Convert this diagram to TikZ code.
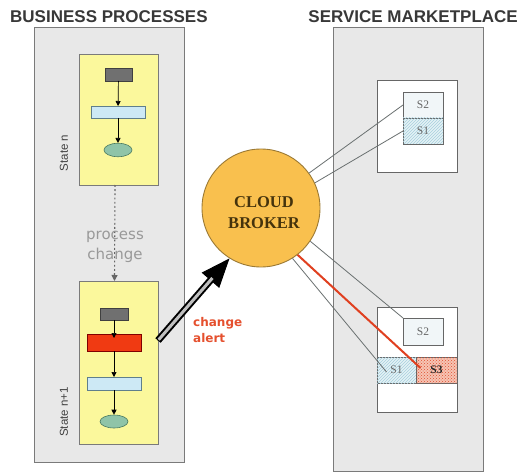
\documentclass[tikz,border=0pt]{standalone}
\usepackage{fontspec}
\setmainfont{Liberation Sans}
\newfontfamily\serf{Liberation Serif}
\newfontfamily\dvs{DejaVu Sans}
\usetikzlibrary{arrows.meta,calc,patterns,shapes.geometric}
\definecolor{panelbg}{HTML}{E8E8E8}
\definecolor{panelln}{HTML}{7A7A7A}
\definecolor{yel}{HTML}{FBF89C}
\definecolor{grayrect}{HTML}{707070}
\definecolor{lblue}{HTML}{CDE9F5}
\definecolor{lbluedk}{HTML}{5F7F8C}
\definecolor{ellg}{HTML}{8FC4A8}
\definecolor{ellgdk}{HTML}{4A7A60}
\definecolor{redrect}{HTML}{F03A12}
\definecolor{cloudfill}{HTML}{F9C04E}
\definecolor{clouddk}{HTML}{9C7A35}
\definecolor{cloudtxt}{HTML}{45330C}
\definecolor{alertred}{HTML}{E5502E}
\definecolor{connln}{HTML}{6A7070}
\definecolor{redln}{HTML}{E04020}
\definecolor{hatchblue}{HTML}{A8CFDD}
\definecolor{s1bg}{HTML}{E4F2F6}
\definecolor{s2bg}{HTML}{F1F6F8}
\definecolor{s3bg}{HTML}{F6C4B4}
\definecolor{s3dot}{HTML}{E05030}
\begin{document}
\begin{tikzpicture}[x=1pt,y=-1pt,
  rbox/.style={rectangle,inner sep=0pt,outer sep=0pt},
  panelbox/.style={rbox,draw=panelln,fill=panelbg,line width=1pt},
  statebox/.style={rbox,draw=panelln,fill=yel,line width=0.8pt},
  grbox/.style={rbox,draw=black!75,fill=grayrect,line width=0.6pt,minimum height=12pt},
  blbox/.style={rbox,draw=lbluedk,fill=lblue,line width=0.6pt,minimum width=54pt},
  rdbox/.style={rbox,draw=red!50!black,fill=redrect,line width=0.6pt,minimum width=54pt,minimum height=17pt},
  ellnode/.style={ellipse,inner sep=0pt,draw=ellgdk,fill=ellg,line width=0.6pt,minimum width=28pt,minimum height=13.5pt},
  flow/.style={draw=black,line width=0.7pt,-{Triangle[length=5pt,width=5pt]}},
  whitebox/.style={rbox,draw=black!60,fill=white,line width=0.9pt,minimum width=80pt},
  sbox/.style={rbox,draw=black!60,line width=0.9pt,font=\serf\fontsize{11.5}{12}\selectfont,text=black!60},
  conn/.style={draw=connln,line width=0.8pt},
  title/.style={font=\bfseries\fontsize{17}{18}\selectfont,text=black!78,inner sep=0pt},
  statelbl/.style={font=\fontsize{11.5}{12}\selectfont,text=black!75,rotate=90,inner sep=0pt}
]
\useasboundingbox (0,0) rectangle (521,473);
\fill[white] (0,0) rectangle (521,473);

% titles
\node[title,anchor=west] (t1) at (10,17) {BUSINESS PROCESSES};
\node[title,anchor=east] (t2) at (518,17) {SERVICE MARKETPLACE};

% panels
\node[panelbox,minimum width=150pt,minimum height=434pt] (lp) at (109,245) {};
\node[panelbox,minimum width=150pt,minimum height=443pt] (rp) at (408,249.5) {};

% state n
\node[statebox,minimum width=79pt,minimum height=131pt] (y1) at (118.5,119.5) {};
\node[grbox,minimum width=27pt,minimum height=13pt] (g1) at (118.5,74.5) {};
\node[blbox,minimum height=12pt] (b1) at (118,112) {};
\node[ellnode] (e1) at (118,150) {};
\draw[flow] (g1) -- (b1);
\draw[flow] (b1) -- (e1);
\node[statelbl] (sl1) at (64,153) {State n};

% state n+1
\node[statebox,minimum width=79pt,minimum height=163pt] (y2) at (118.5,362.5) {};
\node[grbox,minimum width=28pt] (g2) at (114,314) {};
\node[rdbox] (r2) at (114,342.5) {};
\node[blbox,minimum height=13pt] (b2) at (114,383.5) {};
\node[ellnode,minimum height=13pt] (e2) at (114,421.5) {};
\draw[flow] (g2) -- ($(r2.north)+(0,4)$);
\draw[flow] (r2) -- (b2);
\draw[flow] (b2) -- (e2);
\node[statelbl] (sl2) at (64,412) {State n+1};

% process change
\draw[draw=black!60,line width=1.1pt,dash pattern=on 1.8pt off 2.4pt,-{Triangle[length=6pt,width=6pt]}]
  ($(y1.south)+(-3.5,0)$) -- ($(y2.north)+(-4,0)$);
\node[font=\dvs\fontsize{15}{20}\selectfont,text=black!40,align=center,inner sep=0pt] (pc) at (115,247) {process\\change};

% right side boxes
\node[whitebox,minimum height=92pt] (wt) at (417,126) {};
\node[sbox,fill=s2bg,minimum width=40pt,minimum height=26pt] (s2a) at (423,105) {S2};
\node[sbox,fill=s1bg,postaction={pattern=north east lines,pattern color=hatchblue},minimum width=40pt,minimum height=26pt] (s1a) at (423,131) {};
\node[font=\serf\fontsize{11.5}{12}\selectfont,text=black!60] (s1at) at (s1a) {S1};

\node[whitebox,minimum height=105pt] (wb) at (417,359.5) {};
\node[sbox,fill=s2bg,minimum width=40pt,minimum height=27pt] (s2b) at (423,331.5) {S2};
\node[sbox,fill=s1bg,postaction={pattern=north east lines,pattern color=hatchblue},minimum width=39pt,minimum height=26pt] (s1b) at (396.5,370) {};
\node[font=\serf\fontsize{11.5}{12}\selectfont,text=black!60] (s1bt) at (s1b) {S1};
\node[sbox,fill=s3bg,postaction={pattern=crosshatch dots,pattern color=s3dot},minimum width=41pt,minimum height=26pt] (s3) at (436.5,370) {};

% cloud broker
\node[circle,draw=clouddk,fill=cloudfill,line width=0.9pt,minimum size=118pt,inner sep=0pt] (cb) at (261,208) {};
\node[font=\serf\bfseries\fontsize{16.5}{21}\selectfont,text=cloudtxt,align=center,inner sep=0pt] (cbt) at (264,212.5) {CLOUD\\BROKER};

% connectors to marketplace
\draw[conn] (cb.36) -- (s2a.west);
\draw[conn] (cb.25) -- (s1a.west);
\draw[conn] (cb.-34) -- (s2b.north west);
\draw[conn] (cb.-58) -- ($(s1b.center)+(-10,2)$);
\draw[draw=redln,line width=2pt] (cb.-52) -- ($(s3.center)+(-16,-2)$);
\node[font=\serf\bfseries\fontsize{11.5}{12}\selectfont,text=black!85] (s3t) at (s3) {S3};

% change alert arrow
\coordinate (as) at ($(y2.east)+(0,-22)$);
\coordinate (ae) at (cb.-122);
\draw[line width=1pt,-{Triangle[length=29pt,width=23pt]}] (as) -- (ae);
\draw[line width=7pt,black,shorten >=26pt] (as) -- (ae);
\draw[line width=3pt,black!25,shorten >=26pt,shorten <=1pt] (as) -- (ae);
\node[font=\dvs\bfseries\fontsize{12}{16}\selectfont,text=alertred,align=left,anchor=west,inner sep=0pt] (ca) at (193,330) {change\\alert};
\end{tikzpicture}
\end{document}
